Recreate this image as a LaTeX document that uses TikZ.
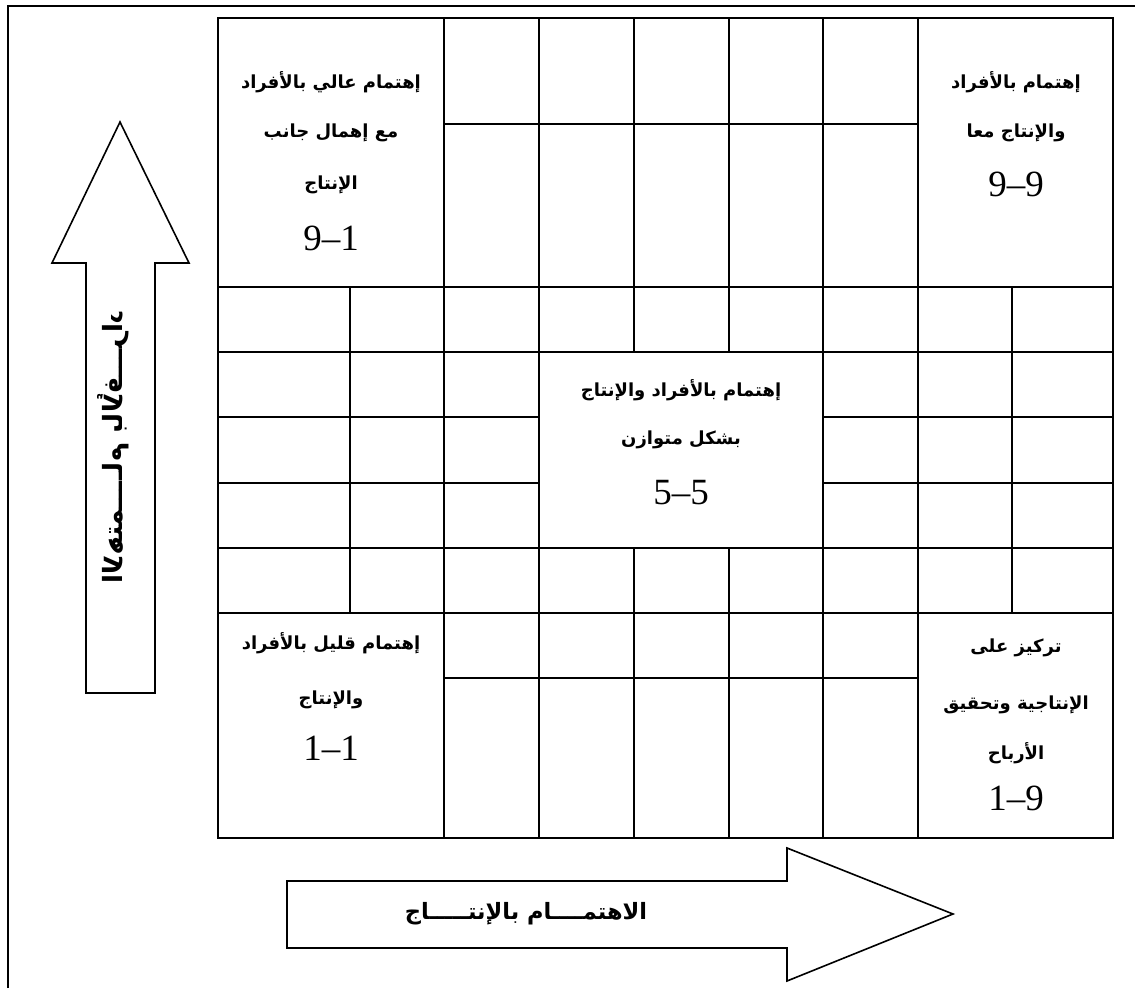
\documentclass[tikz,border=0pt]{standalone}
\usepackage{fontspec}
\setmainfont{Liberation Serif}
\newfontfamily\arabicfont[Script=Arabic]{DejaVu Sans}
\TeXXeTstate=1
\tikzset{
  gridline/.style={line width=2.2pt, line cap=rect},
  framerule/.style={line width=1.8pt},
  bigarrow/.style={draw, line width=1.6pt, fill=white, line join=miter},
  celltext/.style={font=\arabicfont\bfseries\fontsize{18}{21}\selectfont, inner sep=0pt},
  score/.style={font=\fontsize{37}{40}\selectfont, inner sep=0pt},
  axislabel/.style={font=\arabicfont\bfseries\fontsize{22.5}{26}\selectfont, inner sep=0pt},
  sidelabel/.style={font=\arabicfont\bfseries\fontsize{26.5}{30}\selectfont, inner sep=0pt},
}
\begin{document}
\begin{tikzpicture}[x=1pt, y=-1pt]
\useasboundingbox (0,0) rectangle (1135,988);

% page frame (only its top and left edges fall on the page)
\draw[framerule] (8,988) -- (8,6) -- (1135,6);

% ---------- managerial grid ----------
\draw[gridline] (218,18) rectangle (1113,838);
% full-width rows
\foreach \y in {287,352,548,613} \draw[gridline] (218,\y) -- (1113,\y);
% side blocks of the middle band
\foreach \y in {417,483} {
  \draw[gridline] (218,\y) -- (539,\y);
  \draw[gridline] (823,\y) -- (1113,\y);
}
% split rows of the top and bottom bands
\draw[gridline] (444,124) -- (918,124);
\draw[gridline] (444,678) -- (918,678);
% columns
\foreach \x in {444,539,823,918} \draw[gridline] (\x,18) -- (\x,838);
\foreach \x in {634,729} {
  \draw[gridline] (\x,18) -- (\x,352);
  \draw[gridline] (\x,548) -- (\x,838);
}
\foreach \x in {350,1012} \draw[gridline] (\x,287) -- (\x,613);

% ---------- cell labels ----------
% 9-1
\node[celltext] (hp1) at (331,82)  {\beginR إهتمام عالي بالأفراد\endR};
\node[celltext] (hp2) at (331,133) {\beginR مع إهمال جانب\endR};
\node[celltext] (hp3) at (331,185) {\beginR الإنتاج\endR};
\node[score]    (hpn) at (331,238) {9\textendash1};
% 9-9
\node[celltext] (hh1) at (1016,82)  {\beginR إهتمام بالأفراد\endR};
\node[celltext] (hh2) at (1016,133) {\beginR والإنتاج معا\endR};
\node[score]    (hhn) at (1016,184) {9\textendash9};
% 5-5
\node[celltext] (mm1) at (681,390) {\beginR إهتمام بالأفراد والإنتاج\endR};
\node[celltext] (mm2) at (681,440) {\beginR بشكل متوازن\endR};
\node[score]    (mmn) at (681,493) {5\textendash5};
% 1-1
\node[celltext] (ll1) at (331,643) {\beginR إهتمام قليل بالأفراد\endR};
\node[celltext] (ll2) at (331,700) {\beginR والإنتاج\endR};
\node[score]    (lln) at (331,748) {1\textendash1};
% 1-9
\node[celltext] (pr1) at (1016,648) {\beginR تركيز على\endR};
\node[celltext] (pr2) at (1016,705) {\beginR الإنتاجية وتحقيق\endR};
\node[celltext] (pr3) at (1016,753) {\beginR الأرباح\endR};
\node[score]    (prn) at (1016,798) {1\textendash9};

% ---------- axis arrows ----------
% concern for people (upward)
\draw[bigarrow] (120,122) -- (189,263) -- (155,263) -- (155,693)
  -- (86,693) -- (86,263) -- (52,263) -- cycle;
\node[sidelabel, rotate=90, xscale=-1] (people) at (113,447)
  {\beginR الاهتمــــام بالأفـــراد\endR};

% concern for production (rightward)
\draw[bigarrow] (287,881) -- (787,881) -- (787,848) -- (953,914)
  -- (787,981) -- (787,948) -- (287,948) -- cycle;
\node[axislabel] (production) at (526,914)
  {\beginR الاهتمــــام بالإنتـــــاج\endR};
\end{tikzpicture}
\end{document}
